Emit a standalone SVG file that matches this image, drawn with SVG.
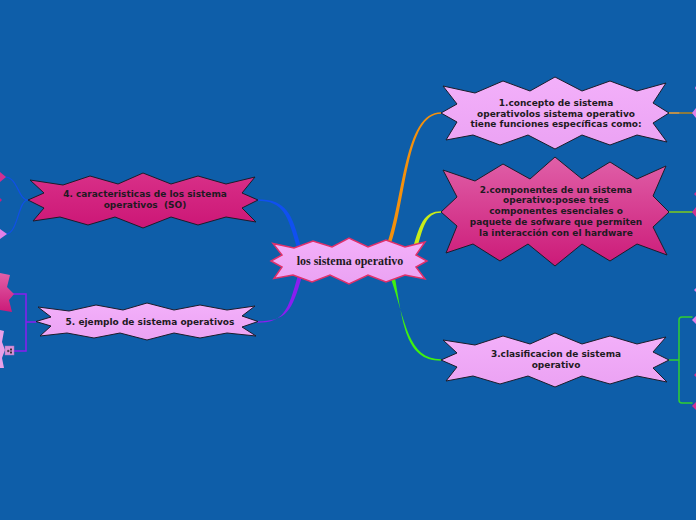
<svg xmlns="http://www.w3.org/2000/svg" width="696" height="520" viewBox="0 0 696 520">
<defs>
<linearGradient id="gLight" x1="0" y1="0" x2="0" y2="1"><stop offset="0" stop-color="#f3b0fa"/><stop offset="1" stop-color="#eba2f3"/></linearGradient>
<linearGradient id="gMag" x1="0" y1="0" x2="0" y2="1"><stop offset="0" stop-color="#e060a8"/><stop offset="1" stop-color="#cc1a78"/></linearGradient>
<linearGradient id="gMag4" x1="0" y1="0" x2="0" y2="1"><stop offset="0" stop-color="#d83088"/><stop offset="1" stop-color="#cc1676"/></linearGradient>
<style>
.light{fill:url(#gLight);stroke:#1c1c2a;stroke-width:1}
.mag{fill:url(#gMag);stroke:#1c1c2a;stroke-width:1}
.lbl{font-family:"DejaVu Sans",Verdana,sans-serif;font-weight:bold;font-size:9px;fill:#1e1a22;text-anchor:middle}
.ctr{font-family:"Liberation Serif","Times New Roman",serif;font-weight:bold;font-size:12px;fill:#1e1a22;text-anchor:middle}
.c{fill:none;stroke-linecap:round}
</style>
</defs>
<rect width="696" height="520" fill="#0e5ea9"/>

<g id="connectors">
<path d="M386.5,246 C403.5,199 404,112.3 441,112.3 L441,113.7 C406,113.7 406.5,201 390,247 Z" fill="#f4900c"/>
<path d="M411,256 C419,224 424,211.3 441,211.3 L441,212.7 C426,212.7 423,226 415,257 Z" fill="#c8ec1a"/>
<path d="M390,276 C406,322 408,359.3 441,359.3 L441,360.7 C405,360.7 403,323 394.5,275 Z" fill="#40f010"/>
<path d="M301,247 C292,214 287,199.3 257,199.3 L257,200.7 C284,200.7 288,216 297,248 Z" fill="#1050f0"/>
<path d="M302,276 C292,311 287,321.3 257,321.3 L257,322.7 C284,322.7 288,311 298,275 Z" fill="#8a1ef0"/>
<path class="c" d="M669,113 H680" stroke="#f0a030" stroke-width="1.5"/>
<path class="c" d="M680,113 H692" stroke="#8a7a40" stroke-width="2"/>
<path class="c" d="M669,212 H692" stroke="#60b040" stroke-width="2"/>
<path class="c" d="M669,360 H679 M692,317 H682 Q679,317 679,320 V400 Q679,403 682,403 H692" stroke="#30d030" stroke-width="1.5"/>
<path class="c" d="M28,200 C18,200 18,177 5,177 M28,200 C18,200 18,234 6,234" stroke="#1050e8" stroke-width="1.2"/>
<path class="c" d="M36,322 H26 M13,294 H26 V351 H13" stroke="#8a1ef0" stroke-width="1.5"/>
</g>

<g id="node-center">
<polygon points="273,243.5 294,248 313,241 332,247 349,238 368,247 386,240 405,247 425,242 416,255 427,261 416,267 425,279 405,275 386,282 368,275 349,284 330,275 312,282 293,275 274,278.5 282,267 271,261 282,255" fill="url(#gLight)" stroke="#e0306a" stroke-width="1.5"/>
<text class="ctr" x="350" y="265">los sistema operativo</text>
</g>

<g id="node-1">
<polygon class="light" points="443,86 475,93 503,81 530,91 555,77 582,91 610,81 637,91 666,83 653,103 669,113 653,123 667,142 637,135 610,145 582,135 555,149 528,135 500,145 473,135 446,140 457,122 441,113 457,104"/>
<text class="lbl" x="556" y="106">1.concepto de sistema</text>
<text class="lbl" x="556" y="116.5">operativolos sistema operativo</text>
<text class="lbl" x="556" y="127">tiene funciones específicas como:</text>
</g>

<g id="node-2">
<polygon class="mag" points="443,170 475,181 503,164 530,179 555,157 582,179 610,162 637,179 666,166 653,196 669,212 653,227 667,255 637,244 610,261 582,244 555,266 528,244 500,261 473,244 446,253 457,226 441,212 457,197"/>
<text class="lbl" x="556" y="192.5">2.componentes de un sistema</text>
<text class="lbl" x="556" y="203.3">operativo:posee tres</text>
<text class="lbl" x="556" y="214">componentes esenciales o</text>
<text class="lbl" x="556" y="224.8">paquete de sofware que permiten</text>
<text class="lbl" x="556" y="235.6">la interacción con el hardware</text>
</g>

<g id="node-3">
<polygon class="light" points="443,340 475,345 503,336 530,344 555,333 582,344 610,336 637,344 666,337 653,352 669,360 653,368 667,382 637,376 610,384 582,376 555,387 528,376 500,384 473,376 446,381 457,367 441,360 457,353"/>
<text class="lbl" x="556" y="356.7">3.clasificacion de sistema</text>
<text class="lbl" x="556" y="367.7">operativo</text>
</g>

<g id="node-4">
<polygon points="30,180 63,185 90,176 118,184 143,173 171,184 198,176 226,184 255,177 242,193 258,200 242,208 256,222 226,217 198,225 171,217 143,228 115,217 88,225 60,217 33,221 44,208 28,200 44,193" fill="url(#gMag4)" stroke="#1c1c2a" stroke-width="1"/>
<text class="lbl" x="145" y="197.3">4. caracteristicas de los sistema</text>
<text class="lbl" x="145" y="208.3" xml:space="preserve">operativos  (SO)</text>
</g>

<g id="node-5">
<polygon class="light" points="38,307 69,311 96,305 123,310 147,303 174,310 200,305 227,310 255,306 242,316 258,321.5 242,327 256,336 227,333 200,338 174,333 147,340 120,333 94,338 67,333 40,336 51,326 36,321.5 51,317"/>
<text class="lbl" x="150" y="325">5. ejemplo de sistema operativos</text>
</g>

<g id="edge-nodes">
<polygon points="692,113 696,108 696,118" fill="#e080e8"/>
<polygon points="695,88 696,86 696,90" fill="#e080e8"/>
<polygon points="692,212 696,207 696,217" fill="#d03090"/>
<polygon points="694,194 696,192 696,196" fill="#d03090"/>
<polygon points="692,320 696,316 696,324" fill="#e080e8"/>
<polygon points="694,290 696,288 696,292" fill="#e080e8"/>
<polygon points="694,375 696,373 696,377" fill="#d03090"/>
<polygon points="692,406 696,402 696,410" fill="#d03090"/>
<polygon points="6,177 0,172 0,182" fill="#d03090"/>
<polygon points="2,200 0,198 0,202" fill="#c02080"/>
<polygon points="7,234 0,229 0,239" fill="#e080e8"/>
<polygon points="0,273 10,275 7,287 14,294 9,300 12,312 0,310" fill="url(#gMag)"/>
<polygon points="0,330 4,331 2,342 5,350 2,358 4,368 0,368" fill="#e8a0e8"/>
<rect x="5" y="346" width="9" height="9" fill="#d890d8" stroke="#b070c0" stroke-width="0.5"/>
<path d="M7,351 H9.5 M8.2,349.8 V352.2 M11,348 V354 M10,349.5 H12 M10,352.5 H12" stroke="#222" stroke-width="0.8" fill="none"/>
</g>
</svg>
